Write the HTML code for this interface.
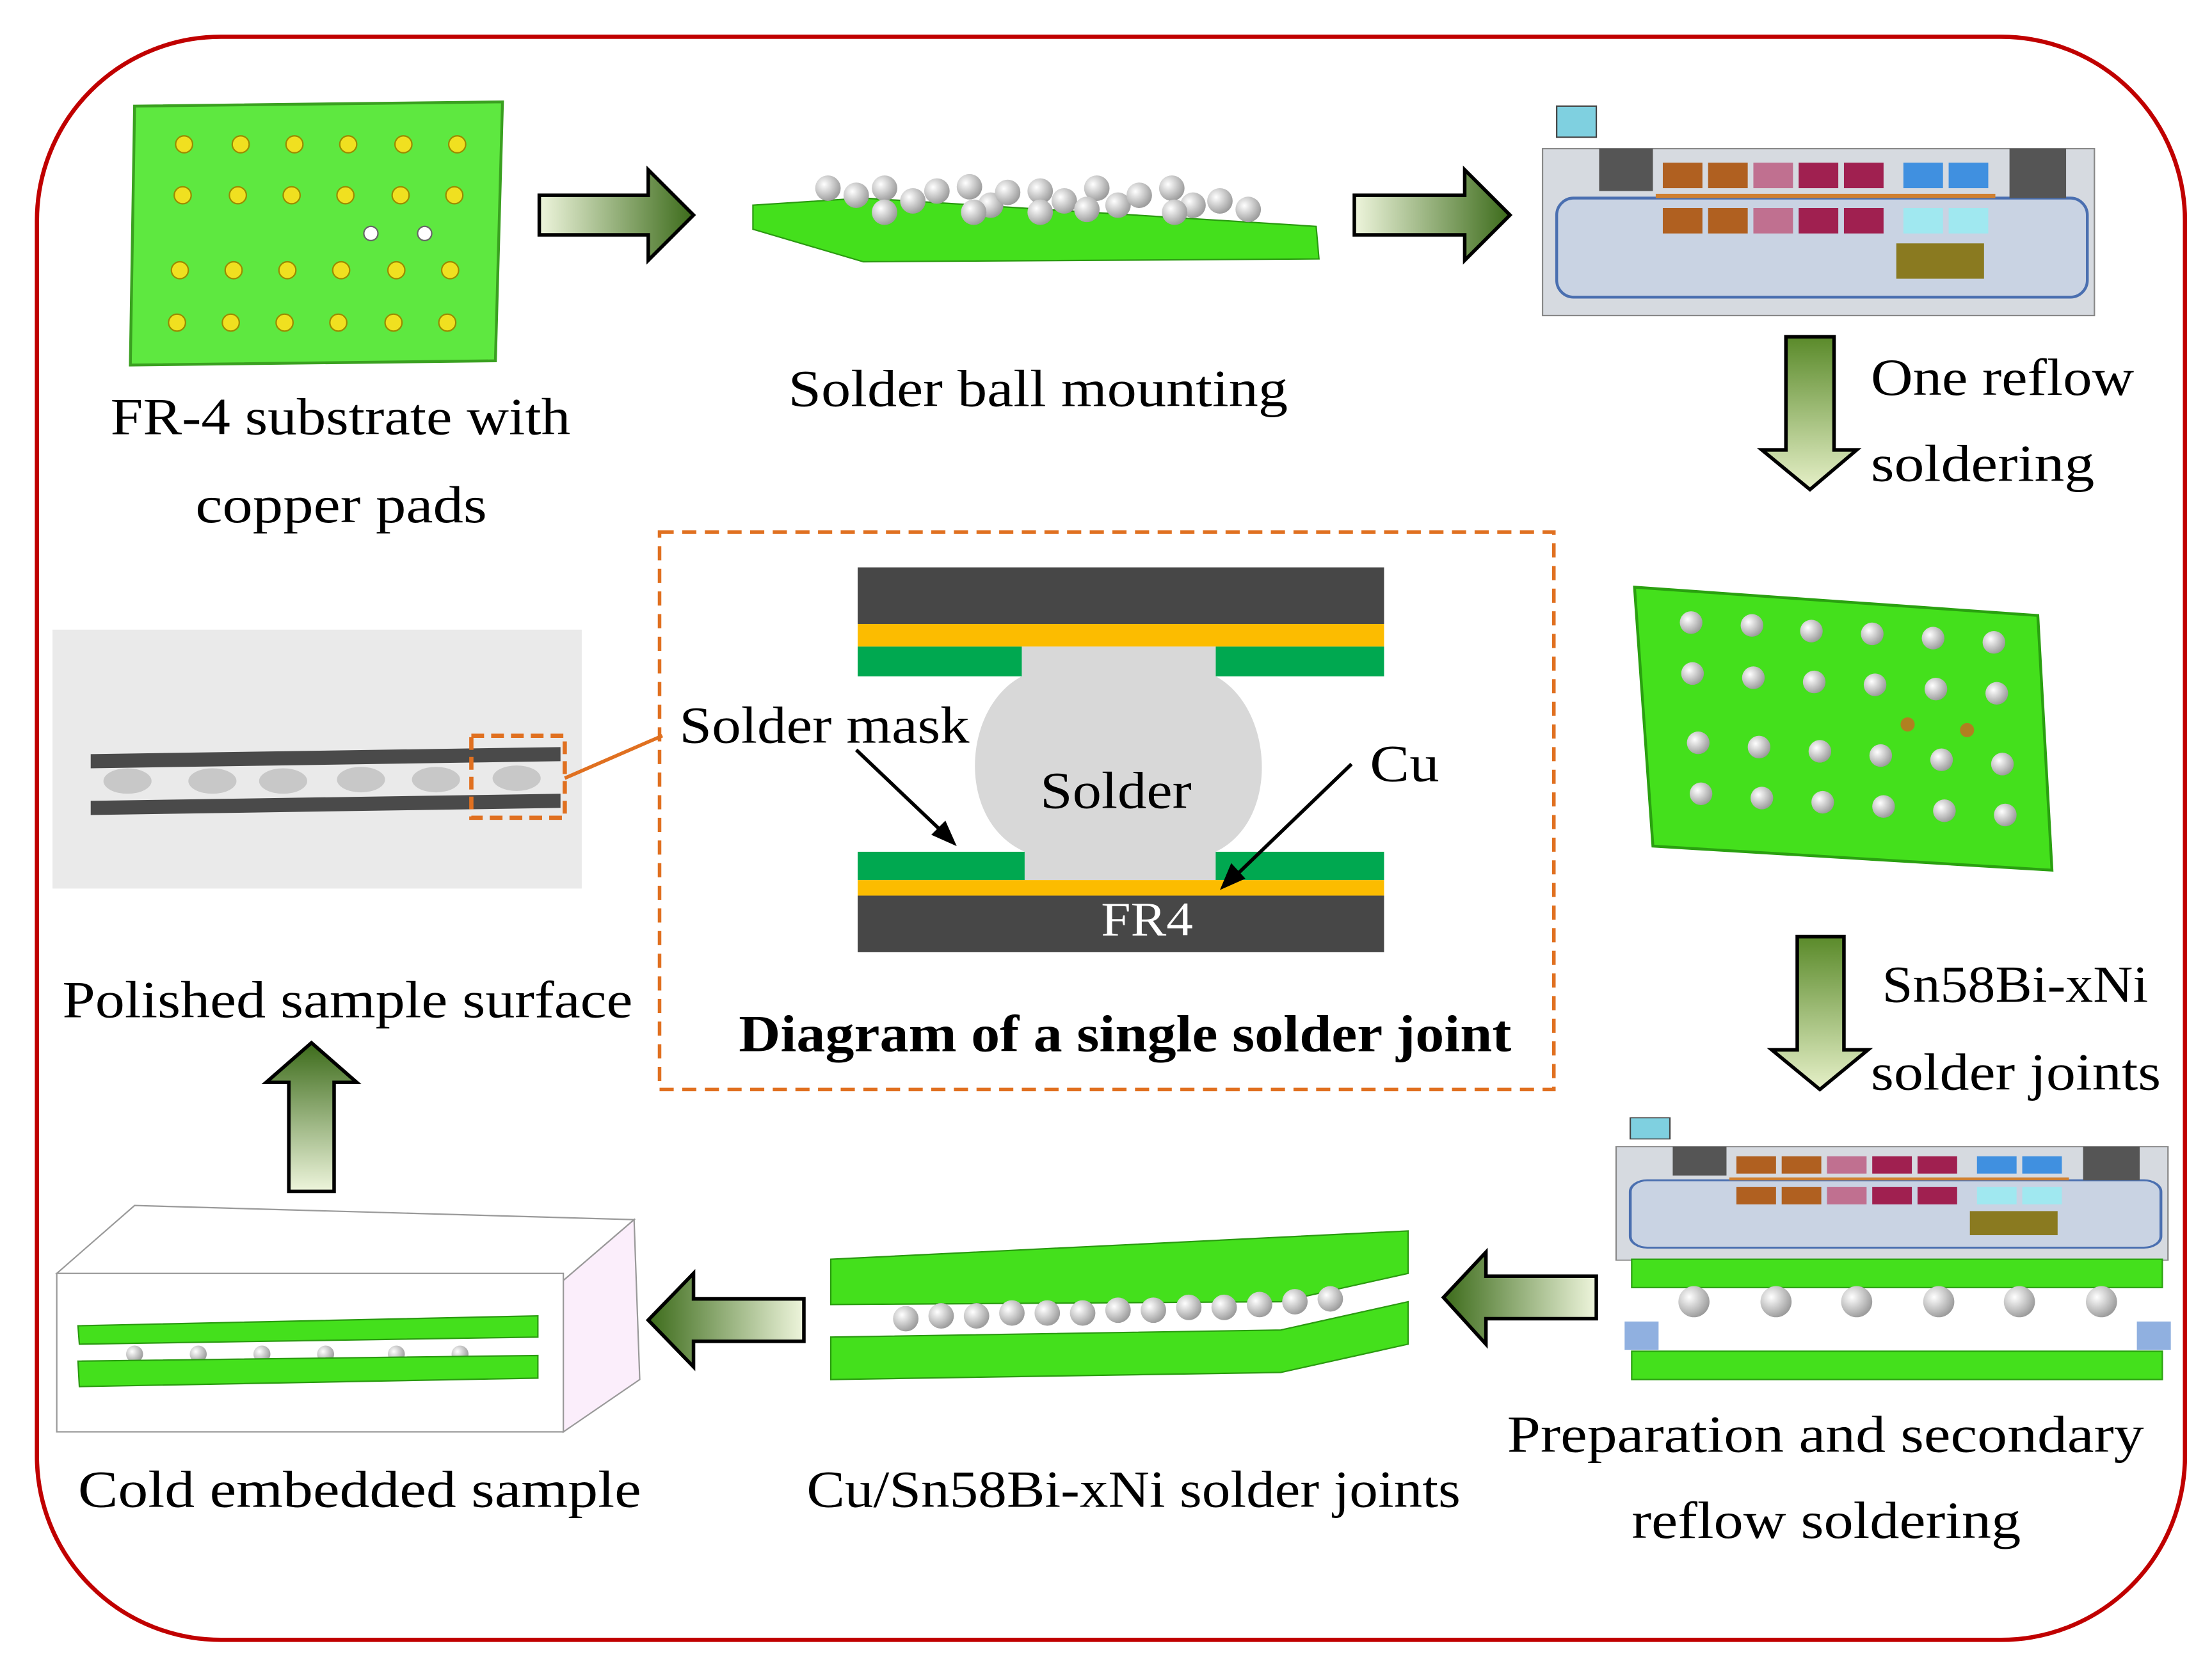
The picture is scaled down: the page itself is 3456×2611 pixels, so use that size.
<!DOCTYPE html>
<html><head><meta charset="utf-8"><style>
html,body{margin:0;padding:0;background:#fff}
svg{display:block}
text{font-family:"Liberation Serif",serif;fill:#000}
</style></head><body>
<svg width="3456" height="2611" viewBox="0 0 1563 1181" xmlns="http://www.w3.org/2000/svg">
<defs>
<linearGradient id="gR" x1="0" x2="1" y1="0" y2="0"><stop offset="0" stop-color="#eef5dc"/><stop offset="1" stop-color="#3c6b1a"/></linearGradient>
<linearGradient id="gL" x1="1" x2="0" y1="0" y2="0"><stop offset="0" stop-color="#eef5dc"/><stop offset="1" stop-color="#3c6b1a"/></linearGradient>
<linearGradient id="gD" x1="0" x2="0" y1="0" y2="1"><stop offset="0" stop-color="#5a8a2a"/><stop offset="1" stop-color="#e6f0c8"/></linearGradient>
<linearGradient id="gU" x1="0" x2="0" y1="1" y2="0"><stop offset="0" stop-color="#eef5dc"/><stop offset="1" stop-color="#3c6b1a"/></linearGradient>
<radialGradient id="ball" cx="0.35" cy="0.35" r="0.7"><stop offset="0" stop-color="#fff"/><stop offset="1" stop-color="#999"/></radialGradient>
<g id="mach">
<rect x="0" y="30" width="390" height="118" fill="#d6dae0" stroke="#888"/>
<rect x="10" y="65" width="375" height="70" rx="12" fill="#c9d3e3" stroke="#4a6fb0" stroke-width="2"/>
<rect x="10" y="0" width="28" height="22" fill="#7fd0e0" stroke="#444"/>
<rect x="40" y="30" width="38" height="30" fill="#555"/>
<rect x="330" y="30" width="40" height="35" fill="#555"/>
<rect x="85" y="40" width="28" height="18" fill="#b06020"/><rect x="117" y="40" width="28" height="18" fill="#b06020"/>
<rect x="149" y="40" width="28" height="18" fill="#c07090"/><rect x="181" y="40" width="28" height="18" fill="#a02050"/><rect x="213" y="40" width="28" height="18" fill="#a02050"/>
<rect x="255" y="40" width="28" height="18" fill="#4090e0"/><rect x="287" y="40" width="28" height="18" fill="#4090e0"/>
<rect x="85" y="72" width="28" height="18" fill="#b06020"/><rect x="117" y="72" width="28" height="18" fill="#b06020"/>
<rect x="149" y="72" width="28" height="18" fill="#c07090"/><rect x="181" y="72" width="28" height="18" fill="#a02050"/><rect x="213" y="72" width="28" height="18" fill="#a02050"/>
<rect x="255" y="72" width="28" height="18" fill="#a0e8f0"/><rect x="287" y="72" width="28" height="18" fill="#a0e8f0"/>
<rect x="250" y="97" width="62" height="25" fill="#8a7a20"/>
<rect x="80" y="62" width="240" height="3" fill="#d08030"/>
</g>
</defs>
<rect x="26" y="26" width="1518" height="1133" rx="130" fill="none" stroke="#c00000" stroke-width="3"/>

<!-- FR4 substrate -->
<polygon points="95,75 355,72 350,255 92,258" fill="#5ee840" stroke="#3aa020" stroke-width="2"/>
<g fill="#f0e020" stroke="#9a8a00" stroke-width="1">
<circle cx="130" cy="102" r="6"/><circle cx="170" cy="102" r="6"/><circle cx="208" cy="102" r="6"/><circle cx="246" cy="102" r="6"/><circle cx="285" cy="102" r="6"/><circle cx="323" cy="102" r="6"/>
<circle cx="129" cy="138" r="6"/><circle cx="168" cy="138" r="6"/><circle cx="206" cy="138" r="6"/><circle cx="244" cy="138" r="6"/><circle cx="283" cy="138" r="6"/><circle cx="321" cy="138" r="6"/>
<circle cx="127" cy="191" r="6"/><circle cx="165" cy="191" r="6"/><circle cx="203" cy="191" r="6"/><circle cx="241" cy="191" r="6"/><circle cx="280" cy="191" r="6"/><circle cx="318" cy="191" r="6"/>
<circle cx="125" cy="228" r="6"/><circle cx="163" cy="228" r="6"/><circle cx="201" cy="228" r="6"/><circle cx="239" cy="228" r="6"/><circle cx="278" cy="228" r="6"/><circle cx="316" cy="228" r="6"/>
</g>
<circle cx="262" cy="165" r="5" fill="#fff" stroke="#666"/><circle cx="300" cy="165" r="5" fill="#fff" stroke="#666"/>
<text x="78" y="307" font-size="37" textLength="325" lengthAdjust="spacingAndGlyphs">FR-4 substrate with</text>
<text x="138" y="369" font-size="37" textLength="206" lengthAdjust="spacingAndGlyphs">copper pads</text>

<polygon points="381,138 458,138 458,120 490,152 458,184 458,166 381,166" fill="url(#gR)" stroke="#000" stroke-width="2.5"/>
<polygon points="532,145 610,140 930,160 932,183 610,185 532,162" fill="#44e01c" stroke="#2a9a10"/>
<g fill="url(#ball)">
<circle cx="585" cy="133" r="9"/><circle cx="605" cy="138" r="9"/><circle cx="625" cy="133" r="9"/><circle cx="645" cy="142" r="9"/><circle cx="662" cy="135" r="9"/><circle cx="685" cy="132" r="9"/><circle cx="700" cy="145" r="9"/><circle cx="712" cy="136" r="9"/><circle cx="735" cy="135" r="9"/><circle cx="752" cy="142" r="9"/><circle cx="775" cy="133" r="9"/><circle cx="790" cy="145" r="9"/><circle cx="805" cy="138" r="9"/><circle cx="828" cy="133" r="9"/><circle cx="843" cy="145" r="9"/><circle cx="862" cy="142" r="9"/><circle cx="882" cy="148" r="9"/><circle cx="625" cy="150" r="9"/><circle cx="688" cy="150" r="9"/><circle cx="735" cy="150" r="9"/><circle cx="768" cy="148" r="9"/><circle cx="830" cy="150" r="9"/>
</g>
<text x="557" y="287" font-size="37" textLength="353" lengthAdjust="spacingAndGlyphs">Solder ball mounting</text>
<polygon points="957,138 1035,138 1035,120 1067,152 1035,184 1035,166 957,166" fill="url(#gR)" stroke="#000" stroke-width="2.5"/>
<g transform="translate(1090,75)"><use href="#mach"/></g>

<polygon points="1262,238 1296,238 1296,318 1312,318 1279,346 1245,318 1262,318" fill="url(#gD)" stroke="#000" stroke-width="2.5"/>
<text x="1322" y="279" font-size="37" textLength="186" lengthAdjust="spacingAndGlyphs">One reflow</text>
<text x="1322" y="340" font-size="37" textLength="158" lengthAdjust="spacingAndGlyphs">soldering</text>

<polygon points="1155,415 1440,435 1450,615 1168,598" fill="#44e01c" stroke="#2aa010" stroke-width="2"/>
<g fill="url(#ball)">
<circle cx="1195" cy="440" r="8"/><circle cx="1238" cy="442" r="8"/><circle cx="1280" cy="446" r="8"/><circle cx="1323" cy="448" r="8"/><circle cx="1366" cy="451" r="8"/><circle cx="1409" cy="454" r="8"/>
<circle cx="1196" cy="476" r="8"/><circle cx="1239" cy="479" r="8"/><circle cx="1282" cy="482" r="8"/><circle cx="1325" cy="484" r="8"/><circle cx="1368" cy="487" r="8"/><circle cx="1411" cy="490" r="8"/>
<circle cx="1200" cy="525" r="8"/><circle cx="1243" cy="528" r="8"/><circle cx="1286" cy="531" r="8"/><circle cx="1329" cy="534" r="8"/>
<circle cx="1202" cy="561" r="8"/><circle cx="1245" cy="564" r="8"/><circle cx="1288" cy="567" r="8"/><circle cx="1331" cy="570" r="8"/><circle cx="1374" cy="573" r="8"/><circle cx="1417" cy="576" r="8"/>
<circle cx="1372" cy="537" r="8"/><circle cx="1415" cy="540" r="8"/>
</g>
<circle cx="1348" cy="512" r="5" fill="#b08020"/><circle cx="1390" cy="516" r="5" fill="#b08020"/>

<polygon points="1270,662 1303,662 1303,742 1320,742 1286,770 1252,742 1270,742" fill="url(#gD)" stroke="#000" stroke-width="2.5"/>
<text x="1330" y="708" font-size="37" textLength="188" lengthAdjust="spacingAndGlyphs">Sn58Bi-xNi</text>
<text x="1322" y="770" font-size="37" textLength="205" lengthAdjust="spacingAndGlyphs">solder joints</text>

<g transform="translate(1142,790) scale(1,0.68)"><use href="#mach"/></g>
<rect x="1153" y="890" width="375" height="20" fill="#44e01c" stroke="#2aa010"/>
<g fill="url(#ball)"><circle cx="1197" cy="920" r="11"/><circle cx="1255" cy="920" r="11"/><circle cx="1312" cy="920" r="11"/><circle cx="1370" cy="920" r="11"/><circle cx="1427" cy="920" r="11"/><circle cx="1485" cy="920" r="11"/></g>
<rect x="1148" y="934" width="24" height="20" fill="#90b0e0"/><rect x="1510" y="934" width="24" height="20" fill="#90b0e0"/>
<rect x="1153" y="955" width="375" height="20" fill="#44e01c" stroke="#2aa010"/>
<text x="1065" y="1026" font-size="37" textLength="450" lengthAdjust="spacingAndGlyphs">Preparation and secondary</text>
<text x="1153" y="1087" font-size="37" textLength="275" lengthAdjust="spacingAndGlyphs">reflow soldering</text>

<polygon points="1128,902 1050,902 1050,885 1020,917 1050,950 1050,932 1128,932" fill="url(#gL)" stroke="#000" stroke-width="2.5"/>

<polygon points="587,890 995,870 995,900 905,920 587,922" fill="#44e01c" stroke="#2a9a10"/>
<g fill="url(#ball)"><circle cx="640" cy="932" r="9"/><circle cx="665" cy="930" r="9"/><circle cx="690" cy="930" r="9"/><circle cx="715" cy="928" r="9"/><circle cx="740" cy="928" r="9"/><circle cx="765" cy="928" r="9"/><circle cx="790" cy="926" r="9"/><circle cx="815" cy="926" r="9"/><circle cx="840" cy="924" r="9"/><circle cx="865" cy="924" r="9"/><circle cx="890" cy="922" r="9"/><circle cx="915" cy="920" r="9"/><circle cx="940" cy="918" r="9"/></g>
<polygon points="587,945 905,940 995,920 995,950 905,970 587,975" fill="#44e01c" stroke="#2a9a10"/>
<text x="570" y="1065" font-size="37" textLength="462" lengthAdjust="spacingAndGlyphs">Cu/Sn58Bi-xNi solder joints</text>

<polygon points="568,918 490,918 490,900 458,933 490,966 490,948 568,948" fill="url(#gL)" stroke="#000" stroke-width="2.5"/>

<polygon points="95,852 448,862 398,905 40,900" fill="#fff" stroke="#999"/>
<rect x="40" y="900" width="358" height="112" fill="#fff" stroke="#999"/>
<polygon points="398,905 448,862 452,975 398,1012" fill="#fbeefb" stroke="#999"/>
<polygon points="55,937 380,930 380,945 56,950" fill="#44e01c" stroke="#2a9a10"/>
<g fill="url(#ball)"><circle cx="95" cy="957" r="6"/><circle cx="140" cy="957" r="6"/><circle cx="185" cy="957" r="6"/><circle cx="230" cy="957" r="6"/><circle cx="280" cy="957" r="6"/><circle cx="325" cy="957" r="6"/></g>
<polygon points="55,962 380,958 380,974 56,980" fill="#44e01c" stroke="#2a9a10"/>
<text x="55" y="1065" font-size="37" textLength="398" lengthAdjust="spacingAndGlyphs">Cold embedded sample</text>

<polygon points="204,842 236,842 236,765 252,765 220,737 188,765 204,765" fill="url(#gU)" stroke="#000" stroke-width="2.5"/>
<text x="44" y="719" font-size="37" textLength="403" lengthAdjust="spacingAndGlyphs">Polished sample surface</text>

<rect x="37" y="445" width="374" height="183" fill="#eaeaea"/>
<polygon points="64,533 396,528 396,538 64,543" fill="#4a4a4a"/>
<g fill="#c8c8c8"><ellipse cx="90" cy="552" rx="17" ry="9"/><ellipse cx="150" cy="552" rx="17" ry="9"/><ellipse cx="200" cy="552" rx="17" ry="9"/><ellipse cx="255" cy="551" rx="17" ry="9"/><ellipse cx="308" cy="551" rx="17" ry="9"/><ellipse cx="365" cy="550" rx="17" ry="9"/></g>
<polygon points="64,566 396,561 396,571 64,576" fill="#4a4a4a"/>
<rect x="333" y="520" width="66" height="58" fill="none" stroke="#e07020" stroke-width="3" stroke-dasharray="9,5"/>
<line x1="399" y1="550" x2="468" y2="520" stroke="#e07020" stroke-width="2.5"/>

<rect x="466" y="376" width="632" height="394" fill="none" stroke="#e07020" stroke-width="2.5" stroke-dasharray="10,6"/>
<rect x="606" y="401" width="372" height="40" fill="#474747"/>
<rect x="606" y="441" width="372" height="16" fill="#fcbc00"/>
<rect x="606" y="457" width="116" height="21" fill="#00a850"/>
<rect x="859" y="457" width="119" height="21" fill="#00a850"/>
<path d="M722,457 L859,457 L859,478 C900,500 905,580 859,602 L859,622 L724,622 L724,602 C675,580 680,500 722,478 Z" fill="#d8d8d8"/>
<rect x="606" y="602" width="118" height="20" fill="#00a850"/>
<rect x="859" y="602" width="119" height="20" fill="#00a850"/>
<rect x="606" y="622" width="372" height="11" fill="#fcbc00"/>
<rect x="606" y="633" width="372" height="40" fill="#474747"/>
<text x="735" y="571" font-size="37" textLength="107" lengthAdjust="spacingAndGlyphs">Solder</text>
<text x="778" y="661" font-size="34" textLength="65" lengthAdjust="spacingAndGlyphs" style="fill:#fff">FR4</text>
<text x="480" y="525" font-size="37" textLength="205" lengthAdjust="spacingAndGlyphs">Solder mask</text>
<text x="968" y="552" font-size="37" textLength="49" lengthAdjust="spacingAndGlyphs">Cu</text>
<line x1="605" y1="530" x2="668" y2="590" stroke="#000" stroke-width="2.5"/>
<polygon points="676,598 658,590 668,580" fill="#000"/>
<line x1="955" y1="540" x2="872" y2="620" stroke="#000" stroke-width="2.5"/>
<polygon points="862,629 870,610 880,621" fill="#000"/>
<text x="522" y="743" font-size="37" font-weight="bold" textLength="546" lengthAdjust="spacingAndGlyphs">Diagram of a single solder joint</text>
</svg>
</body></html>
